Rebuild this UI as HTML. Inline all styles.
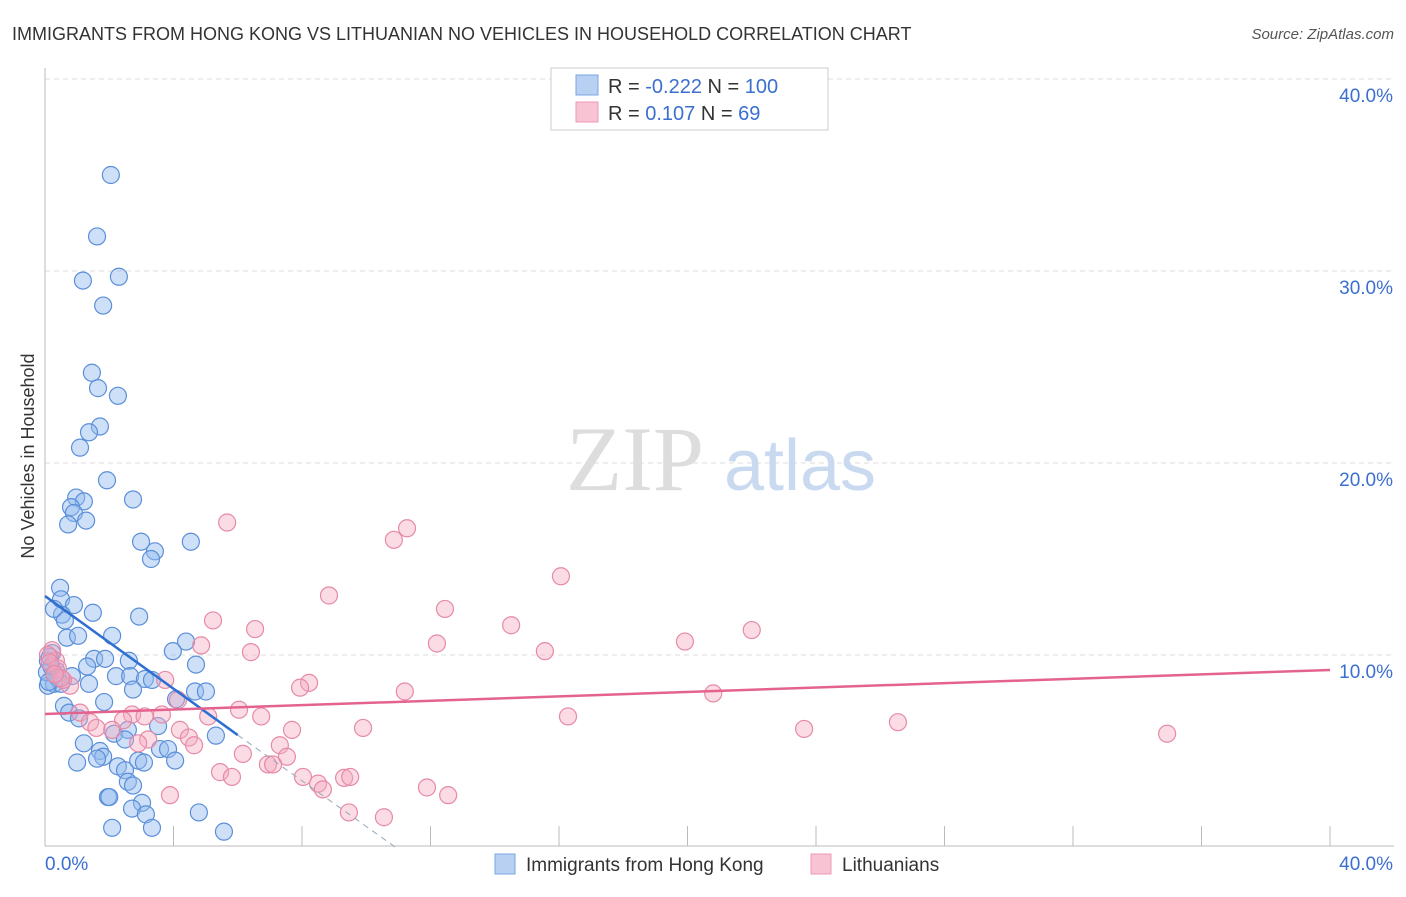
<!DOCTYPE html>
<html><head><meta charset="utf-8"><style>
body{margin:0;background:#fff;font-family:"Liberation Sans",sans-serif}
</style></head><body>
<svg id="chart" width="1406" height="892" xmlns="http://www.w3.org/2000/svg">
<text x="12" y="40" font-size="18" fill="#333">IMMIGRANTS FROM HONG KONG VS LITHUANIAN NO VEHICLES IN HOUSEHOLD CORRELATION CHART</text>
<text x="1394" y="39" font-size="15" fill="#555" font-style="italic" text-anchor="end">Source: ZipAtlas.com</text>
<g id="grid"></g>
<g>
<text x="635" y="490" font-size="92" fill="#ddd" font-family="Liberation Serif" text-anchor="middle">ZIP</text>
<text x="800" y="490" font-size="72" fill="#c9daf0" text-anchor="middle">atlas</text>
</g>
<text transform="translate(34,456) rotate(-90)" font-size="18" fill="#333" text-anchor="middle">No Vehicles in Household</text>
<g id="marks"></g>
<g>
<rect x="551" y="68" width="277" height="62" fill="#fff" stroke="#ccc"/>
<rect x="576" y="75" width="22" height="20" fill="#b8d1f3" stroke="#7aa5e0"/>
<rect x="576" y="102" width="22" height="20" fill="#f8c4d3" stroke="#eb9ab4"/>
<text x="608" y="93" font-size="20" fill="#333">R = <tspan fill="#3b6fd0">-0.222</tspan>   N = <tspan fill="#3b6fd0">100</tspan></text>
<text x="608" y="120" font-size="20" fill="#333">R = <tspan fill="#3b6fd0">  0.107</tspan>   N = <tspan fill="#3b6fd0">  69</tspan></text>
</g>
<g>
<rect x="495" y="854" width="20" height="20" fill="#b8d1f3" stroke="#7aa5e0"/>
<text x="526" y="871" font-size="19" fill="#333">Immigrants from Hong Kong</text>
<rect x="811" y="854" width="20" height="20" fill="#f8c4d3" stroke="#eb9ab4"/>
<text x="842" y="871" font-size="19" fill="#333">Lithuanians</text>
</g>
</svg>
<script>
const yTicks=[10,20,30,40];
const yTickLabels=["10.0%","20.0%","30.0%","40.0%"];
const xTicks=[0,4,8,12,16,20,24,28,32,36,40];
const blueX=[2.05,1.62,1.18,2.30,1.81,1.46,1.65,2.27,1.71,1.37,1.09,1.93,0.97,1.21,2.74,0.81,0.90,1.28,0.72,2.99,4.54,3.42,3.30,0.47,0.50,0.90,1.49,2.93,0.53,0.62,0.28,0.68,1.03,2.09,4.39,3.98,0.22,1.53,1.87,2.61,4.70,1.31,0.34,0.84,2.21,2.65,3.11,3.33,1.37,0.28,0.50,2.74,0.09,4.67,5.01,4.08,1.84,0.59,0.75,1.06,3.52,2.15,2.58,5.32,1.21,2.49,1.71,3.58,3.83,1.81,1.00,1.62,2.27,2.90,3.08,4.05,2.49,2.58,2.74,1.96,2.00,3.02,2.71,3.14,4.79,2.09,3.33,5.57,0.09,0.06,0.15,0.40,0.20,0.12,0.30];
const blueY=[35.0,31.8,29.5,29.7,28.2,24.7,23.9,23.5,21.9,21.6,20.8,19.1,18.2,18.0,18.1,17.7,17.4,17.0,16.8,15.9,15.9,15.4,15.0,13.5,12.9,12.6,12.2,12.0,12.1,11.8,12.4,10.9,11.0,11.0,10.7,10.2,10.1,9.8,9.8,9.7,9.5,9.4,9.2,8.9,8.9,8.9,8.75,8.7,8.5,8.5,8.5,8.2,8.4,8.1,8.1,7.7,7.55,7.35,7.0,6.7,6.3,5.9,6.1,5.8,5.4,5.6,5.0,5.1,5.1,4.7,4.4,4.6,4.2,4.5,4.4,4.5,4.0,3.4,3.2,2.6,2.6,2.3,2.0,1.7,1.8,1.0,1.0,0.8,9.7,9.1,9.9,8.8,9.4,8.6,9.0];
const pinkX=[5.67,11.27,10.86,16.06,8.84,12.45,5.23,6.54,14.51,22.0,19.92,12.2,4.86,15.56,6.41,0.22,0.34,0.09,0.40,3.74,8.22,7.94,11.2,20.8,0.78,0.56,4.14,6.04,5.08,6.73,16.28,2.71,3.64,1.09,2.43,1.40,26.55,9.90,7.69,4.2,23.63,34.93,4.48,4.64,3.21,7.31,6.16,7.53,6.94,7.1,5.45,5.82,8.03,9.31,9.5,8.5,8.65,11.89,12.55,3.89,9.46,10.55,2.09,0.15,0.5,1.6,2.9,0.3,3.1];
const pinkY=[16.9,16.6,16.0,14.1,13.1,12.4,11.8,11.35,11.55,11.3,10.7,10.6,10.5,10.2,10.15,10.25,9.7,10.0,9.3,8.7,8.55,8.3,8.1,8.0,8.4,8.7,7.65,7.15,6.8,6.8,6.8,6.9,6.9,7.0,6.6,6.5,6.5,6.2,6.1,6.1,6.15,5.9,5.7,5.3,5.6,5.3,4.85,4.7,4.3,4.3,3.9,3.65,3.65,3.6,3.65,3.3,3.0,3.1,2.7,2.7,1.8,1.55,6.1,9.6,8.8,6.2,5.4,9.0,6.8];
const blueTrend=[[0,13.07],[6.0,5.83]];
const blueTrendExt=[[6.0,5.83],[10.9,0]];
const pinkTrend=[[0,6.93],[40,9.22]];

const X=v=>45+v/40*1285, Y=v=>847-v/10*192;
const NS="http://www.w3.org/2000/svg";
const grid=document.getElementById('grid'), marks=document.getElementById('marks');
function mk(tag,attrs,parent){const e=document.createElementNS(NS,tag);for(const k in attrs)e.setAttribute(k,attrs[k]);parent.appendChild(e);return e;}
yTicks.forEach((t,i)=>{
 const l=mk('line',{x1:45,x2:1394,y1:Y(t),y2:Y(t),stroke:'#ddd','stroke-dasharray':'5,4'},grid);
 
 
 const tx=mk('text',{x:1393,y:Y(t)+23,'font-size':19,fill:'#3b6fd0','text-anchor':'end'},grid);
 tx.textContent=yTickLabels[i];
 
 
});
const ax=mk('line',{x1:45,x2:45,y1:68,y2:846,stroke:'#bbb'},grid);


const bx=mk('line',{x1:45,x2:1394,y1:846,y2:846,stroke:'#bbb'},grid);


xTicks.forEach(t=>{
 const l=mk('line',{x1:X(t),x2:X(t),y1:826,y2:846,stroke:'#bbb'},grid);
 
 
});
[[0,'0.0%',45,'start'],[40,'40.0%',1393,'end']].forEach(d=>{
 const tx=mk('text',{x:d[2],y:870,'font-size':19,fill:'#3b6fd0','text-anchor':d[3]},grid);
 tx.textContent=d[1];
 
 
});
blueX.forEach((v,i)=>{
 const c=mk('circle',{cx:X(v),cy:Y(blueY[i]),r:8.5,fill:'rgba(147,187,238,0.45)',stroke:'#5b8fd9','stroke-width':1.2},marks);
 
 
});
pinkX.forEach((v,i)=>{
 const c=mk('circle',{cx:X(v),cy:Y(pinkY[i]),r:8.5,fill:'rgba(244,167,190,0.4)',stroke:'#e68aa7','stroke-width':1.2},marks);
 
 
});
const bt=mk('line',{x1:X(blueTrend[0][0]),y1:Y(blueTrend[0][1]),x2:X(blueTrend[1][0]),y2:Y(blueTrend[1][1]),stroke:'#2f6fd0','stroke-width':2.5},marks);


const be=mk('line',{x1:X(blueTrendExt[0][0]),y1:Y(blueTrendExt[0][1]),x2:X(blueTrendExt[1][0]),y2:Y(blueTrendExt[1][1]),stroke:'#9ab','stroke-width':1,'stroke-dasharray':'6,5'},marks);


const pt=mk('line',{x1:X(pinkTrend[0][0]),y1:Y(pinkTrend[0][1]),x2:X(pinkTrend[1][0]),y2:Y(pinkTrend[1][1]),stroke:'#e4638e','stroke-width':2.5},marks);


</script>
</body></html>
